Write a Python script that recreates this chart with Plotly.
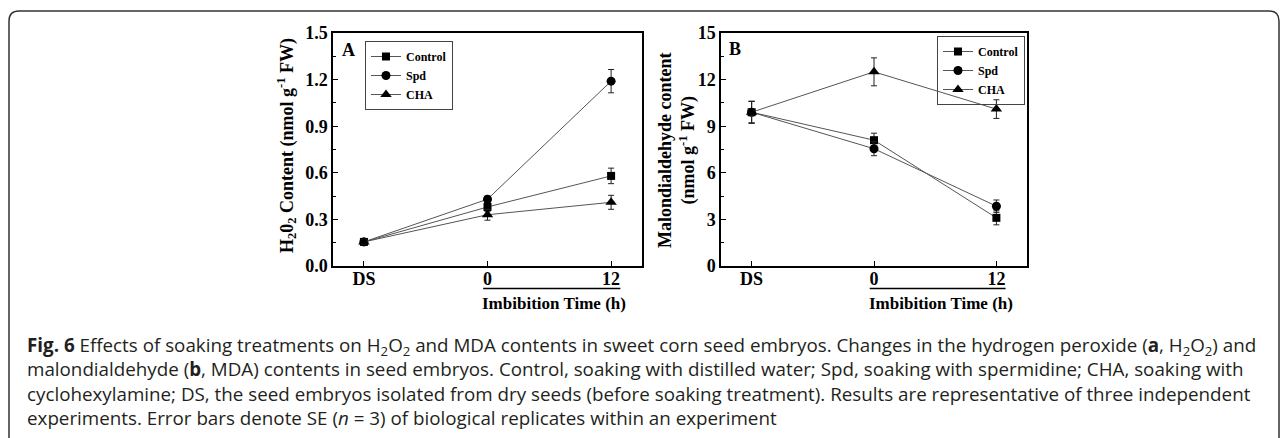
import plotly.graph_objects as go

W, H = 1287, 438

# ---------------- data ----------------
x_pos = [0, 1, 2]
categories = ["DS", "0", "12"]

series_names = ["Control", "Spd", "CHA"]

h2o2_control = [0.155, 0.38, 0.58]
h2o2_control_err = [0.015, 0.03, 0.05]
h2o2_spd = [0.155, 0.43, 1.19]
h2o2_spd_err = [0.015, 0.02, 0.075]
h2o2_cha = [0.155, 0.33, 0.41]
h2o2_cha_err = [0.015, 0.035, 0.045]

mda_control = [9.9, 8.1, 3.1]
mda_control_err = [0.7, 0.45, 0.45]
mda_spd = [9.9, 7.55, 3.85]
mda_spd_err = [0.7, 0.45, 0.4]
mda_cha = [9.9, 12.5, 10.1]
mda_cha_err = [0.7, 0.9, 0.6]

h2o2_ticks = [0.0, 0.3, 0.6, 0.9, 1.2, 1.5]
mda_ticks = [0, 3, 6, 9, 12, 15]

caption_lines = [
    "<b>Fig. 6</b> Effects of soaking treatments on H<sub>2</sub>O<sub>2</sub> and MDA contents in sweet corn seed embryos. Changes in the hydrogen peroxide (<b>a</b>, H<sub>2</sub>O<sub>2</sub>) and",
    "malondialdehyde (<b>b</b>, MDA) contents in seed embryos. Control, soaking with distilled water; Spd, soaking with spermidine; CHA, soaking with",
    "cyclohexylamine; DS, the seed embryos isolated from dry seeds (before soaking treatment). Results are representative of three independent",
    "experiments. Error bars denote SE (<i>n</i> = 3) of biological replicates within an experiment",
]

# ---------------- helpers ----------------
def px(x):
    return x / W

def py(y):
    return 1 - y / H

SERIF = "Liberation Serif, Times New Roman, serif"
symbols = {"Control": "square", "Spd": "circle", "CHA": "triangle-up"}
msize = {"Control": 8, "Spd": 9, "CHA": 10}

fig = go.Figure()

panelA = [(h2o2_control, h2o2_control_err), (h2o2_spd, h2o2_spd_err), (h2o2_cha, h2o2_cha_err)]
panelB = [(mda_control, mda_control_err), (mda_spd, mda_spd_err), (mda_cha, mda_cha_err)]

for name, (vals, err) in zip(series_names, panelA):
    fig.add_trace(go.Scatter(
        x=x_pos, y=vals, name=name, mode="lines+markers",
        line=dict(color="#555555", width=1),
        marker=dict(symbol=symbols[name], size=msize[name], color="black"),
        error_y=dict(type="data", array=err, color="#222222", thickness=1, width=3),
        xaxis="x", yaxis="y", legend="legend",
    ))

for name, (vals, err) in zip(series_names, panelB):
    fig.add_trace(go.Scatter(
        x=x_pos, y=vals, name=name, mode="lines+markers",
        line=dict(color="#555555", width=1),
        marker=dict(symbol=symbols[name], size=msize[name], color="black"),
        error_y=dict(type="data", array=err, color="#222222", thickness=1, width=3),
        xaxis="x2", yaxis="y2", legend="legend2",
    ))

tickfont = dict(family=SERIF, size=18, color="black", weight="bold")

xcommon = dict(
    tickmode="array", tickvals=x_pos, ticktext=categories, range=[-0.25, 2.25],
    showline=True, linecolor="black", linewidth=1.5, mirror=True,
    ticks="inside", ticklen=5, tickcolor="black", tickwidth=1,
    showgrid=False, zeroline=False, tickfont=tickfont, ticklabelstandoff=-4,
    automargin=False,
)
ycommon = dict(
    showline=True, linecolor="black", linewidth=1.5, mirror=True,
    ticks="inside", ticklen=5, tickcolor="black", tickwidth=1,
    showgrid=False, zeroline=False, tickfont=tickfont, automargin=False,
)

ydom = [py(266), py(33)]

fig.update_layout(
    width=W, height=H, autosize=False,
    margin=dict(l=0, r=0, t=0, b=0, pad=0, autoexpand=False),
    paper_bgcolor="white", plot_bgcolor="white",
    xaxis=dict(domain=[px(333), px(642)], anchor="y", **xcommon),
    yaxis=dict(domain=ydom, anchor="x", range=[0, 1.5], tickmode="array",
               tickvals=h2o2_ticks, ticktext=[f"{v:.1f}" for v in h2o2_ticks],
               minor=dict(ticks="inside", ticklen=3, dtick=0.15, tick0=0, tickcolor="black"),
               **ycommon),
    xaxis2=dict(domain=[px(721), px(1027)], anchor="y2", **xcommon),
    yaxis2=dict(domain=ydom, anchor="x2", range=[0, 15], tickmode="array",
                tickvals=mda_ticks, ticktext=[str(v) for v in mda_ticks],
                minor=dict(ticks="inside", ticklen=3, dtick=1.5, tick0=0, tickcolor="black"),
                **ycommon),
    legend=dict(x=px(365), y=py(41), xanchor="left", yanchor="top",
                bordercolor="#444444", borderwidth=1, bgcolor="white",
                font=dict(family=SERIF, size=12, color="black", weight="bold"),
                itemwidth=30, tracegroupgap=0),
    legend2=dict(x=px(1025), y=py(36), xanchor="right", yanchor="top",
                 bordercolor="#444444", borderwidth=1, bgcolor="rgba(255,255,255,0)",
                 font=dict(family=SERIF, size=12, color="black", weight="bold"),
                 itemwidth=30, tracegroupgap=0),
    showlegend=True,
)

annotations = []
titlefont = dict(family=SERIF, size=18, color="black", weight="bold")
annotations.append(dict(
    text="H<sub>2</sub>0<sub>2</sub> Content (nmol g<sup>-1</sup> FW)",
    x=px(287), y=py(146), xref="paper", yref="paper", textangle=-90,
    showarrow=False, xanchor="center", yanchor="middle", font=titlefont))
annotations.append(dict(
    text="Malondialdehyde content<br>(nmol g<sup>-1</sup> FW)",
    x=px(677), y=py(150), xref="paper", yref="paper", textangle=-90,
    showarrow=False, xanchor="center", yanchor="middle", font=titlefont))
for lab, xx, yy in [("A", 348, 50), ("B", 735, 49)]:
    annotations.append(dict(text=lab, x=px(xx), y=py(yy), xref="paper", yref="paper",
                            showarrow=False, xanchor="center", yanchor="middle",
                            font=dict(family=SERIF, size=18, color="black", weight="bold")))
for xx in [554, 941]:
    annotations.append(dict(text="Imbibition Time (h)", x=px(xx), y=py(303), xref="paper",
                            yref="paper", showarrow=False, xanchor="center", yanchor="middle",
                            font=dict(family=SERIF, size=17, color="black", weight="bold")))
annotations.append(dict(
    text="<br>".join(caption_lines), x=px(25), y=py(330), xref="paper", yref="paper",
    showarrow=False, xanchor="left", yanchor="top", align="left",
    font=dict(family="Open Sans, sans-serif", size=18.8, color="#231f20")))

fig.update_layout(annotations=annotations)

shapes = []
# underline below imbibition-time ticks (in axis coordinates)
for xr in ["x", "x2"]:
    shapes.append(dict(type="line", xref=xr, yref="paper", x0=0.965, x1=2.075,
                       y0=py(288.5), y1=py(288.5), line=dict(color="black", width=1.5)))

# rounded frame
L, T, R, B, r = 9, 11, 1279, 460, 10
path = (f"M {px(L)},{py(B)} L {px(L)},{py(T + r)} Q {px(L)},{py(T)} {px(L + r)},{py(T)} "
        f"L {px(R - r)},{py(T)} Q {px(R)},{py(T)} {px(R)},{py(T + r)} L {px(R)},{py(B)}")
shapes.append(dict(type="path", xref="paper", yref="paper", path=path,
                   line=dict(color="#333333", width=1.5)))
fig.update_layout(shapes=shapes)

fig.write_html(
    "out.html",
    config={"displayModeBar": False},
    post_script="document.body.style.margin='0';document.body.style.overflow='hidden';",
)
